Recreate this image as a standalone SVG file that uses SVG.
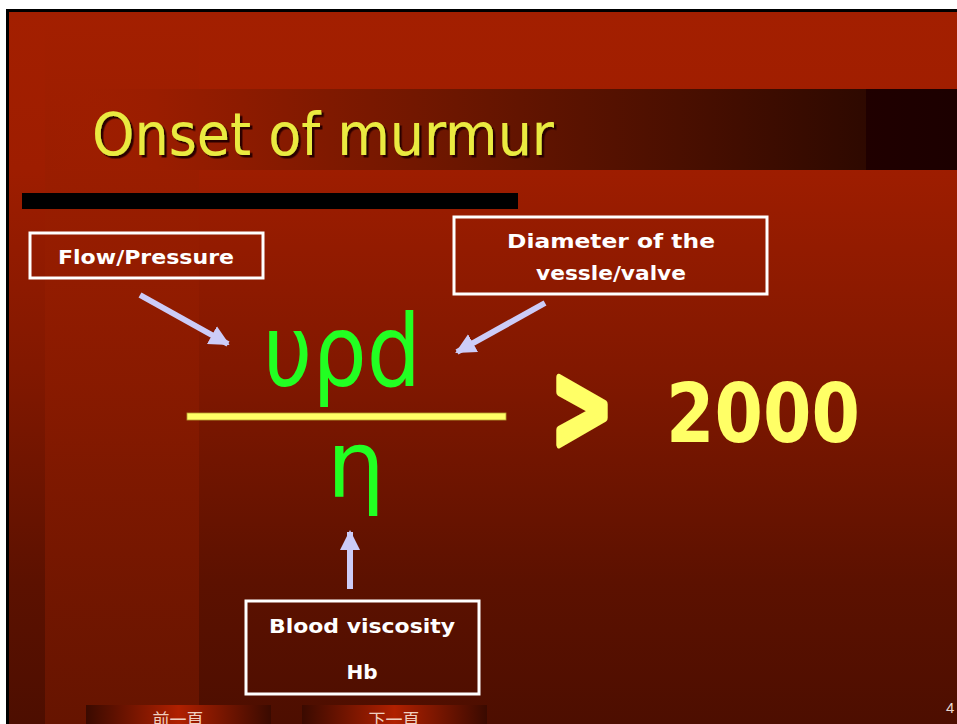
<svg xmlns="http://www.w3.org/2000/svg" width="957" height="724" viewBox="0 0 957 724">
<defs>
<linearGradient id="bg" x1="0" y1="0" x2="0" y2="1">
<stop offset="0" stop-color="#a31f00"/>
<stop offset="0.22" stop-color="#9e1d00"/>
<stop offset="0.5" stop-color="#821800"/>
<stop offset="0.8" stop-color="#5c1100"/>
<stop offset="1" stop-color="#4d0e00"/>
</linearGradient>
<linearGradient id="band" x1="0" y1="0" x2="0" y2="1">
<stop offset="0" stop-color="#a31f00"/>
<stop offset="0.4" stop-color="#921c00"/>
<stop offset="1" stop-color="#6a1500"/>
</linearGradient>
<linearGradient id="banner" x1="0" y1="0" x2="1" y2="0">
<stop offset="0" stop-color="#a01e00" stop-opacity="0"/>
<stop offset="0.12" stop-color="#9a1d00"/>
<stop offset="0.45" stop-color="#6c1600"/>
<stop offset="0.9" stop-color="#2e0900"/>
<stop offset="0.9" stop-color="#200000"/>
<stop offset="1" stop-color="#1c0000"/>
</linearGradient>
<linearGradient id="btn" x1="0" y1="0" x2="1" y2="0">
<stop offset="0" stop-color="#3a0a00"/>
<stop offset="0.5" stop-color="#b02000"/>
<stop offset="1" stop-color="#3a0a00"/>
</linearGradient>
<filter id="shadow" x="-5%" y="-20%" width="115%" height="150%">
<feDropShadow dx="2.5" dy="2.5" stdDeviation="0.4" flood-color="#2a0500" flood-opacity="1"/>
</filter>
<marker id="ah" viewBox="0 0 10 10" refX="9" refY="5" markerWidth="3.4" markerHeight="3.4" orient="auto" markerUnits="strokeWidth">
<path d="M0,0 L10,5 L0,10 Z" fill="#ccccf8"/>
</marker>
</defs>
<style>
.box{fill:none;stroke:#ffffff;stroke-width:3}
.lbl{font-family:"DejaVu Sans",sans-serif;font-weight:bold;fill:#ffffff;font-size:20px;text-anchor:middle}
.arr{stroke:#ccccf8;stroke-width:6;fill:none}
.grn{font-family:"DejaVu Sans",sans-serif;fill:#22ff22;text-anchor:middle}
.yel{font-family:"DejaVu Sans",sans-serif;font-weight:bold;fill:#ffff66}
.cjk{font-family:"Noto Sans CJK TC",sans-serif;fill:#f0d0c0;font-size:17px;text-anchor:middle}
</style>
<rect width="957" height="724" fill="#ffffff"/>
<rect x="6" y="9" width="951" height="715" fill="#000000"/>
<rect x="9" y="12" width="948" height="712" fill="url(#bg)"/>
<rect x="45" y="12" width="154" height="712" fill="url(#band)" opacity="0.85"/>
<rect x="47" y="89" width="910" height="81" fill="url(#banner)"/>
<g id="title">
<text x="92" y="155" font-family="DejaVu Sans Condensed, DejaVu Sans, sans-serif" font-size="58" fill="#eaea40" filter="url(#shadow)" textLength="462" lengthAdjust="spacingAndGlyphs">Onset of murmur</text>
</g>
<rect x="22" y="193" width="496" height="16" fill="#000000"/>
<g id="flow">
<rect class="box" x="30" y="233" width="233" height="45"/>
<text class="lbl" x="146" y="264" textLength="176" lengthAdjust="spacingAndGlyphs">Flow/Pressure</text>
</g>
<g id="diameter">
<rect class="box" x="454" y="217" width="313" height="77"/>
<text class="lbl" x="611" y="248" textLength="208" lengthAdjust="spacingAndGlyphs">Diameter of the</text>
<text class="lbl" x="611" y="280" textLength="150" lengthAdjust="spacingAndGlyphs">vessle/valve</text>
</g>
<g id="blood">
<rect class="box" x="246" y="601" width="233" height="93"/>
<text class="lbl" x="362" y="633" textLength="186" lengthAdjust="spacingAndGlyphs">Blood viscosity</text>
<text class="lbl" x="362" y="679">Hb</text>
</g>
<g id="formula">
<text class="grn" x="342" y="386" font-size="100" textLength="158" lengthAdjust="spacingAndGlyphs">υρd</text>
<rect x="187" y="413" width="319" height="7" fill="#ffff66" stroke="#b8a030" stroke-width="0.8"/>
<text class="grn" x="356" y="497" font-size="92">η</text>
<text class="yel" x="551" y="448" font-size="118" stroke="#ffff66" stroke-width="8" stroke-linejoin="round" textLength="62" lengthAdjust="spacingAndGlyphs">&gt;</text>
<text class="yel" x="666" y="442" font-size="82" textLength="194" lengthAdjust="spacingAndGlyphs">2000</text>
</g>
<g id="connectors">
<line class="arr" x1="140" y1="295" x2="228" y2="344" marker-end="url(#ah)"/>
<line class="arr" x1="545" y1="303" x2="457" y2="352" marker-end="url(#ah)"/>
<line class="arr" x1="350" y1="589" x2="350" y2="532" marker-end="url(#ah)"/>
</g>
<g id="prev">
<rect x="86" y="705" width="185" height="19" fill="url(#btn)"/>
<text class="cjk" x="178" y="726">前一頁</text>
</g>
<g id="next">
<rect x="302" y="705" width="185" height="19" fill="url(#btn)"/>
<text class="cjk" x="394" y="726">下一頁</text>
</g>
<text x="946" y="713" font-family="Liberation Sans, sans-serif" font-size="15" fill="#e8d8d0">4</text>
</svg>
